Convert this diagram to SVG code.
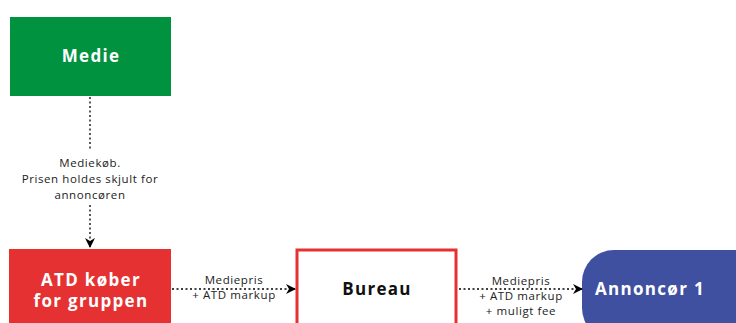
<svg xmlns="http://www.w3.org/2000/svg" width="736" height="323" viewBox="0 0 736 323">
<defs>
<marker id="ah" viewBox="0 0 10 10" refX="9" refY="5" markerWidth="10" markerHeight="10" markerUnits="userSpaceOnUse" orient="auto">
<path d="M0,0 L10,5 L0,10 L3,5 Z" fill="#000"/>
</marker>
<style>
.nt{font-family:"Open Sans","DejaVu Sans",sans-serif;font-weight:700;font-size:17px;letter-spacing:1.3px;fill:#fff;text-anchor:middle}
.lb{font-family:"Open Sans","DejaVu Sans",sans-serif;font-size:11.5px;letter-spacing:0.6px;fill:#222;text-anchor:middle}
.cn{stroke:#000;stroke-width:1.3;stroke-dasharray:2 2.5;fill:none}
</style>
</defs>
<rect width="736" height="323" fill="#fff"/>
<g id="medie">
<rect x="10" y="17" width="161" height="79" fill="#01923f"/>
<text class="nt" x="91" y="62">Medie</text>
</g>
<g id="atd">
<rect x="9" y="249" width="162" height="80" fill="#e53132"/>
<text class="nt" x="91" y="286">ATD køber</text>
<text class="nt" x="91" y="307">for gruppen</text>
</g>
<g id="bureau">
<rect x="297" y="250" width="159" height="80" fill="#fff" stroke="#e53132" stroke-width="3"/>
<text class="nt" x="377" y="295" style="fill:#111">Bureau</text>
</g>
<g id="annoncor">
<rect x="582" y="250" width="190" height="90" rx="32" fill="#3f50a0"/>
<text class="nt" x="650" y="295">Annoncør 1</text>
</g>
<g id="connectors">
<path class="cn" d="M90,97 V150"/>
<path class="cn" d="M90,205 V247" marker-end="url(#ah)"/>
<path class="cn" d="M172,289 H295" marker-end="url(#ah)"/>
<path class="cn" d="M459,289 H582" marker-end="url(#ah)"/>
<text class="lb" x="90" y="167">Mediekøb.</text>
<text class="lb" x="90" y="183">Prisen holdes skjult for</text>
<text class="lb" x="90" y="199">annoncøren</text>
<text class="lb" x="234" y="284">Mediepris</text>
<text class="lb" x="234" y="299">+ ATD markup</text>
<text class="lb" x="521" y="285">Mediepris</text>
<text class="lb" x="521" y="300">+ ATD markup</text>
<text class="lb" x="521" y="315">+ muligt fee</text>
</g>
</svg>
